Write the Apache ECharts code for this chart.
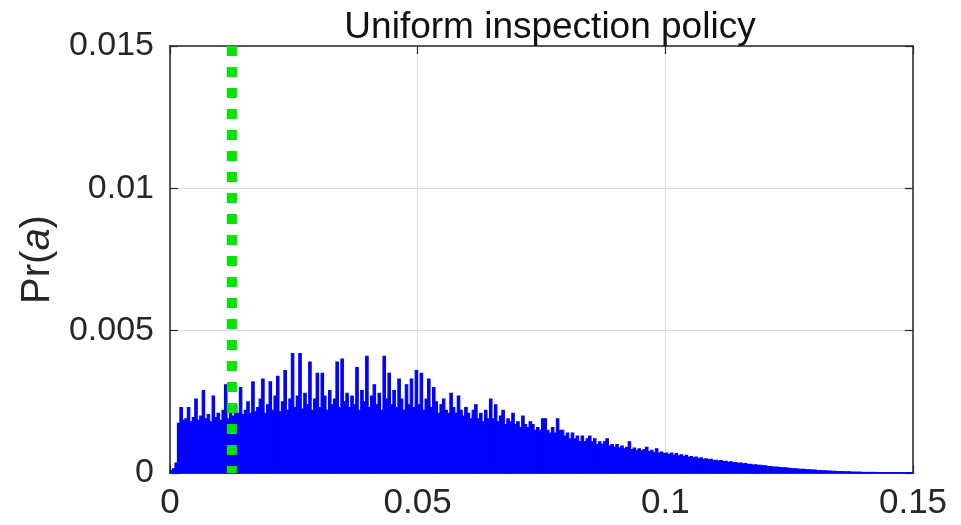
<!DOCTYPE html>
<html>
<head>
<meta charset="utf-8">
<title>Uniform inspection policy</title>
<script src="https://cdn.jsdelivr.net/npm/echarts@6/dist/echarts.min.js"></script>
<style>
  html, body { margin: 0; padding: 0; background: #ffffff; }
  #chart { width: 961px; height: 525px; }
</style>
</head>
<body>
<div id="chart"></div>
<script>
// Histogram of Pr(a): 300 bins of width 0.0005 over [0, 0.15]
const BIN_WIDTH = 0.0005;
const binProbability = [
  0.00008, 0.00015, 0.00035, 0.00175, 0.0023, 0.00185, 0.0019, 0.0023, 0.0018, 0.00195,
  0.0026, 0.00185, 0.002, 0.0029, 0.0019, 0.00205, 0.0018, 0.0027, 0.00195, 0.0021,
  0.00185, 0.0022, 0.0031, 0.0019, 0.00215, 0.002, 0.0024, 0.0021, 0.003, 0.00205,
  0.0022, 0.0025, 0.0021, 0.0032, 0.00215, 0.0023, 0.0026, 0.0033, 0.0021, 0.0024,
  0.0032, 0.0022, 0.0027, 0.0034, 0.00215, 0.0025, 0.0036, 0.0022, 0.0026, 0.0042,
  0.0023, 0.0027, 0.0042, 0.00225, 0.0028, 0.0024, 0.0039, 0.0022, 0.0026, 0.0035,
  0.0023, 0.0035, 0.0027, 0.0022, 0.0029, 0.0024, 0.0026, 0.0039, 0.0023, 0.004,
  0.0025, 0.0028, 0.0023, 0.0027, 0.0024, 0.0037, 0.0022, 0.0029, 0.0025, 0.0041,
  0.0023, 0.0027, 0.0031, 0.0024, 0.0028, 0.0022, 0.0041, 0.0026, 0.0035, 0.0024,
  0.0029, 0.0023, 0.0033, 0.0026, 0.0022, 0.0031, 0.0024, 0.0033, 0.0023, 0.0036,
  0.0024, 0.0035, 0.0022, 0.0026, 0.0033, 0.0023, 0.003, 0.0025, 0.0021, 0.0024,
  0.0026, 0.0022, 0.0021, 0.0028, 0.0023, 0.0021, 0.0027, 0.0022, 0.002, 0.0023,
  0.0021, 0.0019, 0.0022, 0.0024, 0.0019, 0.0021, 0.0018, 0.0022, 0.0019, 0.0026,
  0.0019, 0.0024, 0.0018, 0.002, 0.0022, 0.0017, 0.0019, 0.0018, 0.0021, 0.0017,
  0.0018, 0.0016, 0.002, 0.0017, 0.0016, 0.0018, 0.0017, 0.0015, 0.0016, 0.0015,
  0.0019, 0.0019, 0.0015, 0.0014, 0.0016, 0.0014, 0.0019, 0.0015, 0.0015, 0.0013,
  0.0014, 0.0012, 0.0014, 0.0012, 0.0013, 0.0011, 0.0013, 0.0011, 0.0012, 0.0013,
  0.0011, 0.0012, 0.001, 0.0011, 0.001, 0.0011, 0.0012, 0.00095, 0.001, 0.0009,
  0.001, 0.00088, 0.00095, 0.00085, 0.0009, 0.0011, 0.00082, 0.00088, 0.0008, 0.00085,
  0.00078, 0.00082, 0.0009, 0.00075, 0.0008, 0.00072, 0.00085, 0.0007, 0.00074, 0.00068,
  0.0007, 0.00065, 0.0007, 0.00062, 0.00068, 0.0006, 0.00064, 0.00058, 0.00062, 0.00055,
  0.00058, 0.00053, 0.00056, 0.0005, 0.00053, 0.00048, 0.0005, 0.00046, 0.00048, 0.00044,
  0.00045, 0.00042, 0.00044, 0.0004, 0.00041, 0.00038, 0.00039, 0.00036, 0.00037, 0.00034,
  0.00035, 0.00032, 0.00033, 0.0003, 0.00031, 0.00028, 0.00029, 0.00027, 0.00027, 0.00025,
  0.00025, 0.00023, 0.00023, 0.00021, 0.00021, 0.0002, 0.00019, 0.00018, 0.00018, 0.00017,
  0.00016, 0.00015, 0.00015, 0.00014, 0.00013, 0.00013, 0.00012, 0.00011, 0.00011, 0.0001,
  0.0001, 0.00009, 0.00009, 0.00008, 0.00008, 0.00007, 0.00007, 0.00006, 0.00006, 0.00005,
  0.00005, 0.00005, 0.00004, 0.00004, 0.00004, 0.00003, 0.00003, 0.00003, 0.00003, 0.00002,
  0.00002, 0.00002, 0.00002, 0.00002, 0.00002, 0.00001, 0.00001, 0.00001, 0.00001, 0.00001,
  0.00001, 0.00001, 0.00001, 0.000008, 0.000008, 0.000006, 0.000006, 0.000005, 0.000004, 0.000004
];

// Threshold marker (dotted vertical line)
const thresholdA = 0.0125;

// Axis ticks
const xTicks = [0, 0.05, 0.1, 0.15];
const yTicks = [0, 0.005, 0.01, 0.015];

const FONT = "'Liberation Sans', Arial, Helvetica, sans-serif";
const INK = '#262626';

const binData = binProbability.map((p, i) => [i * BIN_WIDTH, (i + 1) * BIN_WIDTH, p]);

const chart = echarts.init(document.getElementById('chart'), null, { renderer: 'canvas' });

const xStep = xTicks[1] - xTicks[0];
const yStep = yTicks[1] - yTicks[0];

const boxAxisCommon = {
  axisLine: { show: true, onZero: false, lineStyle: { color: INK, width: 1.5 } },
  axisTick: { show: true, inside: true, length: 8, lineStyle: { color: INK, width: 1.2 } }
};

chart.setOption({
  animation: false,
  backgroundColor: '#ffffff',
  title: {
    text: 'Uniform inspection policy',
    left: 545,
    top: 4,
    textAlign: 'center',
    textStyle: { fontFamily: FONT, fontSize: 37, fontWeight: 'normal', color: '#111111' }
  },
  grid: { left: 170, right: 48, top: 46, bottom: 52, containLabel: false },
  xAxis: [
    Object.assign({
      type: 'value',
      position: 'bottom',
      min: xTicks[0],
      max: xTicks[xTicks.length - 1],
      interval: xStep,
      axisLabel: { fontFamily: FONT, fontSize: 35, color: INK, margin: 13 },
      splitLine: { show: true, lineStyle: { color: '#dcdcdc', width: 1 } }
    }, boxAxisCommon),
    Object.assign({
      type: 'value',
      position: 'top',
      min: xTicks[0],
      max: xTicks[xTicks.length - 1],
      interval: xStep,
      axisLabel: { show: false },
      splitLine: { show: false }
    }, boxAxisCommon)
  ],
  yAxis: [
    Object.assign({
      type: 'value',
      position: 'left',
      min: yTicks[0],
      max: yTicks[yTicks.length - 1],
      interval: yStep,
      name: '{n|Pr(}{i|a}{n|)}',
      nameLocation: 'middle',
      nameRotate: 90,
      nameGap: 112,
      nameTextStyle: {
        rich: {
          n: { fontFamily: FONT, fontSize: 40, color: INK },
          i: { fontFamily: FONT, fontSize: 40, color: INK, fontStyle: 'italic' }
        }
      },
      axisLabel: { fontFamily: FONT, fontSize: 34, color: INK, margin: 16 },
      splitLine: { show: true, lineStyle: { color: '#dcdcdc', width: 1 } }
    }, boxAxisCommon),
    Object.assign({
      type: 'value',
      position: 'right',
      min: yTicks[0],
      max: yTicks[yTicks.length - 1],
      interval: yStep,
      axisLabel: { show: false },
      splitLine: { show: false }
    }, boxAxisCommon)
  ],
  series: [
    {
      name: 'Pr(a)',
      type: 'custom',
      xAxisIndex: 0,
      yAxisIndex: 0,
      data: binData,
      encode: { x: [0, 1], y: 2 },
      z: 2,
      renderItem: function (params, api) {
        const topLeft = api.coord([api.value(0), api.value(2)]);
        const bottomRight = api.coord([api.value(1), 0]);
        return {
          type: 'rect',
          shape: {
            x: topLeft[0],
            y: topLeft[1],
            width: bottomRight[0] - topLeft[0],
            height: bottomRight[1] - topLeft[1]
          },
          style: { fill: '#0000ff', stroke: '#0000ff', lineWidth: 1.1 }
        };
      }
    },
    {
      name: 'threshold',
      type: 'line',
      xAxisIndex: 0,
      yAxisIndex: 0,
      data: [[thresholdA, yTicks[yTicks.length - 1]], [thresholdA, yTicks[0]]],
      symbol: 'none',
      z: 5,
      lineStyle: { color: '#00e600', width: 10, type: [10, 11], cap: 'butt' }
    }
  ]
});
</script>
</body>
</html>
